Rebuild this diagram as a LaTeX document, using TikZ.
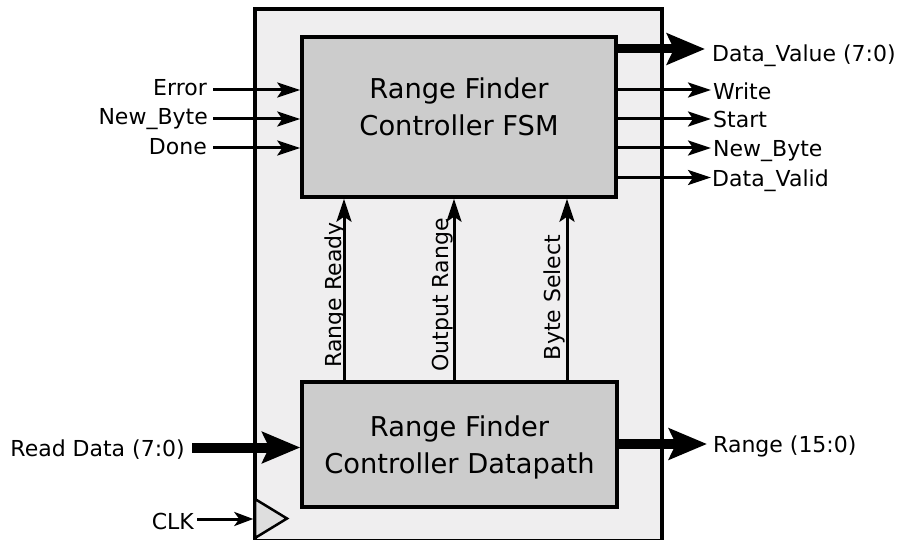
\documentclass[tikz,border=0pt]{standalone}
\usepackage{fontspec}
\setmainfont{DejaVu Sans}
\usetikzlibrary{arrows.meta}
\definecolor{outerfill}{RGB}{239,238,239}
\definecolor{boxfill}{RGB}{204,204,204}
\definecolor{clkfill}{RGB}{222,222,222}
\begin{document}
\begin{tikzpicture}[x=1pt,y=-1pt,
  lab/.style={font=\fontsize{22}{26}\selectfont, inner sep=0pt},
  boxtxt/.style={font=\fontsize{27.3}{37}\selectfont, align=center, inner sep=0pt},
  blk/.style={draw, line width=3.5pt, fill=boxfill, inner sep=0pt},
  thinarr/.style={line width=3pt, -{Stealth[length=23pt,width=15pt,inset=5pt]}},
  thickarr/.style={line width=10pt, -{Stealth[length=38pt,width=31pt,inset=7pt]}},
]
\useasboundingbox (0,0) rectangle (901,540);
% outer block
\node[draw, line width=3.5pt, fill=outerfill, minimum width=407pt, minimum height=532pt, inner sep=0pt] (outer) at (458.5,275) {};
% inner blocks
\node[blk, minimum width=314pt, minimum height=160pt] (fsm) at (459,117) {};
\node[blk, minimum width=315pt, minimum height=125pt] (dp) at (459.5,444.5) {};
\node[boxtxt] (fsmtxt) at (459,107) {Range Finder\\Controller FSM};
\node[boxtxt] (dptxt) at (459.5,447) {Range Finder\\Controller Datapath};
% clock triangle
\draw[line width=2.5pt, fill=clkfill] (255,499) -- (287,518.5) -- (255,538) -- cycle;
% left inputs
\node[lab, anchor=base east] (error) at (207,96) {Error};
\node[lab, anchor=base east] (nbin) at (208,124.5) {New\_Byte};
\node[lab, anchor=base east] (done) at (207,154) {Done};
\coordinate (e0) at (213,90);
\coordinate (n0) at (213,119);
\coordinate (d0) at (213,148);
\draw[thinarr] (e0) -- (e0 -| fsm.west);
\draw[thinarr] (n0) -- (n0 -| fsm.west);
\draw[thinarr] (d0) -- (d0 -| fsm.west);
% right outputs
\node[lab, anchor=base west] (dval) at (712,62) {Data\_Value (7:0)};
\node[lab, anchor=base west] (write) at (713,100) {Write};
\node[lab, anchor=base west] (start) at (713,128) {Start};
\node[lab, anchor=base west] (nbout) at (713,157) {New\_Byte};
\node[lab, anchor=base west] (dvalid) at (712,186) {Data\_Valid};
\coordinate (dv0) at (616,49);
\coordinate (w0) at (616,90);
\coordinate (s0) at (616,119);
\coordinate (nb0) at (616,148);
\coordinate (dvl0) at (616,177.5);
\draw[thickarr, line width=9pt, shorten >=7pt] (dv0) -- (dv0 -| dval.west);
\draw[thinarr, shorten >=2pt] (w0) -- (w0 -| write.west);
\draw[thinarr, shorten >=2pt] (s0) -- (s0 -| start.west);
\draw[thinarr, shorten >=2pt] (nb0) -- (nb0 -| nbout.west);
\draw[thinarr, shorten >=1pt] (dvl0) -- (dvl0 -| dvalid.west);
% vertical signals
\coordinate (xrr) at (344,0);
\coordinate (xor) at (454,0);
\coordinate (xbs) at (567,0);
\draw[thinarr] (xrr |- dp.north) -- (xrr |- fsm.south);
\draw[thinarr] (xor |- dp.north) -- (xor |- fsm.south);
\draw[thinarr] (xbs |- dp.north) -- (xbs |- fsm.south);
\node[lab, rotate=90, anchor=base] (rrl) at (341.5,295) {Range Ready};
\node[lab, rotate=90, anchor=base] (orl) at (448,295) {Output Range};
\node[lab, rotate=90, anchor=base] (bsl) at (560,297.5) {Byte Select};
% bottom
\node[lab, anchor=base east] (rd) at (185,456.5) {Read Data (7:0)};
\coordinate (rd0) at (192,447.5);
\draw[thickarr] (rd0) -- (rd0 -| dp.west);
\node[lab, anchor=base west] (rng) at (713,452.5) {Range (15:0)};
\coordinate (r0) at (617,444);
\draw[thickarr, shorten >=6pt] (r0) -- (r0 -| rng.west);
\node[lab, anchor=base east] (clk) at (194,529) {CLK};
\coordinate (c0) at (197,519);
\draw[thinarr, -{Stealth[length=19pt,width=14pt,inset=5pt]}] (c0) -- (c0 -| outer.west);
\end{tikzpicture}
\end{document}
